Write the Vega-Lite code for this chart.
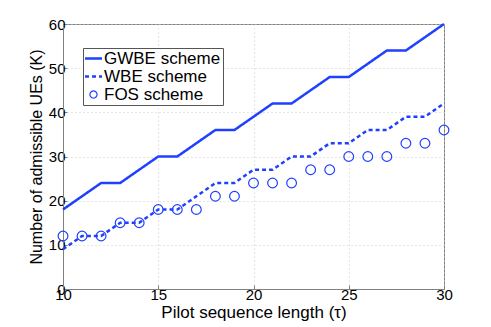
{
  "$schema": "https://vega.github.io/schema/vega-lite/v6.json",
  "autosize": "none",
  "width": 381,
  "height": 265,
  "padding": {"left": 63, "top": 24, "right": 47, "bottom": 38},
  "background": "white",
  "config": {
    "font": "Liberation Sans",
    "view": {"stroke": "#808080", "strokeWidth": 1},
    "axis": {
      "domainColor": "#808080",
      "tickColor": "#808080",
      "tickSize": -4,
      "labelFontSize": 15,
      "labelColor": "#000000",
      "labelFlush": false,
      "labelPadding": 2,
      "titleFontWeight": "normal",
      "titleColor": "#000000",
      "gridColor": "#cccccc",
      "gridDash": [1, 3],
      "gridWidth": 1
    }
  },
  "data": {
    "values": [
      {"x": 10, "y": 18, "scheme": "GWBE scheme"},
      {"x": 11, "y": 21, "scheme": "GWBE scheme"},
      {"x": 12, "y": 24, "scheme": "GWBE scheme"},
      {"x": 13, "y": 24, "scheme": "GWBE scheme"},
      {"x": 14, "y": 27, "scheme": "GWBE scheme"},
      {"x": 15, "y": 30, "scheme": "GWBE scheme"},
      {"x": 16, "y": 30, "scheme": "GWBE scheme"},
      {"x": 17, "y": 33, "scheme": "GWBE scheme"},
      {"x": 18, "y": 36, "scheme": "GWBE scheme"},
      {"x": 19, "y": 36, "scheme": "GWBE scheme"},
      {"x": 20, "y": 39, "scheme": "GWBE scheme"},
      {"x": 21, "y": 42, "scheme": "GWBE scheme"},
      {"x": 22, "y": 42, "scheme": "GWBE scheme"},
      {"x": 23, "y": 45, "scheme": "GWBE scheme"},
      {"x": 24, "y": 48, "scheme": "GWBE scheme"},
      {"x": 25, "y": 48, "scheme": "GWBE scheme"},
      {"x": 26, "y": 51, "scheme": "GWBE scheme"},
      {"x": 27, "y": 54, "scheme": "GWBE scheme"},
      {"x": 28, "y": 54, "scheme": "GWBE scheme"},
      {"x": 29, "y": 57, "scheme": "GWBE scheme"},
      {"x": 30, "y": 60, "scheme": "GWBE scheme"},
      {"x": 10, "y": 9, "scheme": "WBE scheme"},
      {"x": 11, "y": 12, "scheme": "WBE scheme"},
      {"x": 12, "y": 12, "scheme": "WBE scheme"},
      {"x": 13, "y": 15, "scheme": "WBE scheme"},
      {"x": 14, "y": 15, "scheme": "WBE scheme"},
      {"x": 15, "y": 18, "scheme": "WBE scheme"},
      {"x": 16, "y": 18, "scheme": "WBE scheme"},
      {"x": 17, "y": 21, "scheme": "WBE scheme"},
      {"x": 18, "y": 24, "scheme": "WBE scheme"},
      {"x": 19, "y": 24, "scheme": "WBE scheme"},
      {"x": 20, "y": 27, "scheme": "WBE scheme"},
      {"x": 21, "y": 27, "scheme": "WBE scheme"},
      {"x": 22, "y": 30, "scheme": "WBE scheme"},
      {"x": 23, "y": 30, "scheme": "WBE scheme"},
      {"x": 24, "y": 33, "scheme": "WBE scheme"},
      {"x": 25, "y": 33, "scheme": "WBE scheme"},
      {"x": 26, "y": 36, "scheme": "WBE scheme"},
      {"x": 27, "y": 36, "scheme": "WBE scheme"},
      {"x": 28, "y": 39, "scheme": "WBE scheme"},
      {"x": 29, "y": 39, "scheme": "WBE scheme"},
      {"x": 30, "y": 42, "scheme": "WBE scheme"},
      {"x": 10, "y": 12, "scheme": "FOS scheme"},
      {"x": 11, "y": 12, "scheme": "FOS scheme"},
      {"x": 12, "y": 12, "scheme": "FOS scheme"},
      {"x": 13, "y": 15, "scheme": "FOS scheme"},
      {"x": 14, "y": 15, "scheme": "FOS scheme"},
      {"x": 15, "y": 18, "scheme": "FOS scheme"},
      {"x": 16, "y": 18, "scheme": "FOS scheme"},
      {"x": 17, "y": 18, "scheme": "FOS scheme"},
      {"x": 18, "y": 21, "scheme": "FOS scheme"},
      {"x": 19, "y": 21, "scheme": "FOS scheme"},
      {"x": 20, "y": 24, "scheme": "FOS scheme"},
      {"x": 21, "y": 24, "scheme": "FOS scheme"},
      {"x": 22, "y": 24, "scheme": "FOS scheme"},
      {"x": 23, "y": 27, "scheme": "FOS scheme"},
      {"x": 24, "y": 27, "scheme": "FOS scheme"},
      {"x": 25, "y": 30, "scheme": "FOS scheme"},
      {"x": 26, "y": 30, "scheme": "FOS scheme"},
      {"x": 27, "y": 30, "scheme": "FOS scheme"},
      {"x": 28, "y": 33, "scheme": "FOS scheme"},
      {"x": 29, "y": 33, "scheme": "FOS scheme"},
      {"x": 30, "y": 36, "scheme": "FOS scheme"}
    ]
  },
  "encoding": {
    "x": {
      "field": "x",
      "type": "quantitative",
      "scale": {"domain": [10, 30], "nice": false, "zero": false},
      "axis": {"values": [10, 15, 20, 25, 30], "title": "Pilot sequence length (τ)", "titleFontSize": 17, "titlePadding": 2}
    },
    "y": {
      "field": "y",
      "type": "quantitative",
      "scale": {"domain": [0, 60], "nice": false},
      "axis": {"values": [0, 10, 20, 30, 40, 50, 60], "title": "Number of admissible UEs (K)", "titleFontSize": 16, "titlePadding": 4}
    },
    "color": {
      "field": "scheme",
      "type": "nominal",
      "scale": {
        "domain": ["GWBE scheme", "WBE scheme", "FOS scheme"],
        "range": ["#2040ff", "#2040ff", "#2040ff"]
      },
      "legend": {
        "title": null,
        "orient": "none",
        "legendX": 20,
        "legendY": 24,
        "fillColor": "white",
        "strokeColor": "#555555",
        "padding": 2,
        "rowPadding": 0,
        "labelFontSize": 17,
        "labelColor": "#000000",
        "labelOffset": 2,
        "symbolType": "stroke",
        "symbolSize": 289,
        "symbolStrokeWidth": 2.5,
        "encode": {
          "symbols": {
            "update": {
              "shape": {"signal": "datum.value === 'FOS scheme' ? 'circle' : 'stroke'"},
              "size": {"signal": "datum.value === 'FOS scheme' ? 50 : 289"},
              "strokeDash": {"signal": "datum.value === 'WBE scheme' ? [4, 3] : [1, 0]"},
              "strokeWidth": {"signal": "datum.value === 'FOS scheme' ? 1.2 : 2.5"},
              "stroke": {"value": "#2040ff"},
              "fill": {"value": "transparent"}
            }
          }
        }
      }
    }
  },
  "layer": [
    {
      "transform": [{"filter": "datum.scheme !== 'FOS scheme'"}],
      "mark": {"type": "line", "strokeWidth": 2.5},
      "encoding": {
        "strokeDash": {
          "field": "scheme",
          "type": "nominal",
          "scale": {"domain": ["GWBE scheme", "WBE scheme"], "range": [[1, 0], [4, 3]]},
          "legend": null
        }
      }
    },
    {
      "transform": [{"filter": "datum.scheme === 'FOS scheme'"}],
      "mark": {"type": "point", "shape": "circle", "filled": false, "size": 95, "strokeWidth": 1.2, "opacity": 1}
    }
  ]
}
